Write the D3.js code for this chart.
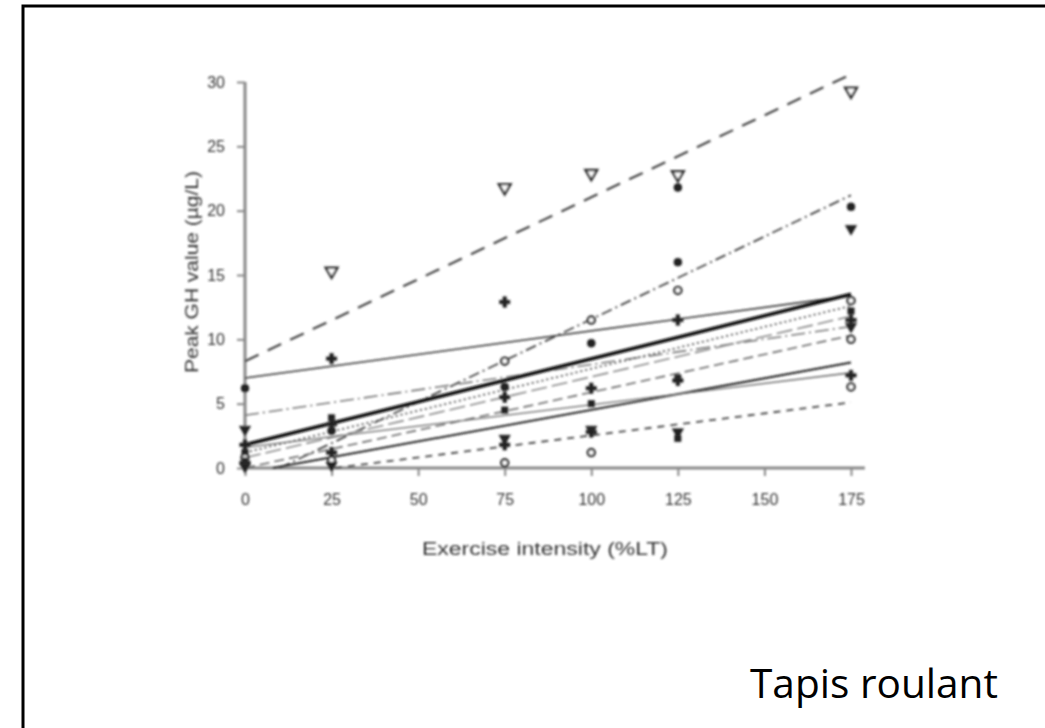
<!DOCTYPE html>
<html>
<head>
<meta charset="utf-8">
<script src="https://cdn.jsdelivr.net/npm/d3@7"></script>
<style>
  body { margin: 0; background: #fff; }
  svg { display: block; }
</style>
</head>
<body>
<div id="chart"></div>
<script>
// exercise intensity (%LT) where samples were taken
const xTicks = [0, 25, 50, 75, 100, 125, 150, 175];
const yTicks = [0, 5, 10, 15, 20, 25, 30];

// regression line of each subject: [x start, y start, x end, y end]
const fitLines = [
  { seg: [0, 8.3, 175, 30.6], dash: "15,10", w: 2.2, c: "#444" },
  { seg: [10, 0, 175, 21.2], dash: "11,4,2,4", w: 1.8, c: "#444" },
  { seg: [0, 7.0, 175, 13.4], dash: null, w: 1.6, c: "#333" },
  { seg: [0, 4.1, 175, 11.0], dash: "14,4,2,4", w: 1.6, c: "#777" },
  { seg: [0, 1.2, 175, 12.6], dash: "2,3", w: 1.8, c: "#555" },
  { seg: [0, 0.8, 175, 11.8], dash: "16,5", w: 1.6, c: "#888" },
  { seg: [0, 0, 175, 10.3], dash: "10,5", w: 1.6, c: "#666" },
  { seg: [0, 1.8, 175, 13.5], dash: null, w: 3.6, c: "#111" },
  { seg: [8, 0, 175, 8.2], dash: null, w: 2, c: "#222" },
  { seg: [0, 1.6, 175, 7.4], dash: null, w: 1.4, c: "#666" },
  { seg: [26, 0, 175, 5.1], dash: "7,6", w: 1.8, c: "#444" }
];

// measured peaks: intensity, GH value, marker
const peaks0 = [[0, 6.2, "dot"], [0, 3.0, "tri"], [0, 1.8, "plus"], [0, 1.2, "sq"], [0, 0.8, "ring"], [0, 0.4, "plus"], [0, 0.1, "tri"]];
const peaks25 = [[25, 15.3, "otri"], [25, 8.5, "plus"], [25, 3.9, "sq"], [25, 3.4, "plus"], [25, 2.9, "dot"], [25, 1.2, "plus"], [25, 0.6, "ring"], [25, 0.2, "tri"]];
const peaks75 = [[75, 21.8, "otri"], [75, 12.9, "plus"], [75, 8.3, "ring"], [75, 6.3, "dot"], [75, 5.5, "plus"], [75, 4.5, "sq"], [75, 2.3, "tri"], [75, 1.8, "plus"], [75, 0.4, "ring"]];
const peaks100 = [[100, 22.9, "otri"], [100, 11.5, "ring"], [100, 9.7, "dot"], [100, 6.2, "plus"], [100, 5.0, "sq"], [100, 3.0, "tri"], [100, 2.8, "plus"], [100, 1.2, "ring"]];
const peaks125 = [[125, 22.8, "otri"], [125, 21.8, "dot"], [125, 16.0, "dot"], [125, 13.8, "ring"], [125, 11.5, "plus"], [125, 7.0, "sq"], [125, 6.8, "plus"], [125, 2.8, "tri"], [125, 2.3, "sq"]];
const peaks175 = [[175, 29.3, "otri"], [175, 20.3, "dot"], [175, 18.6, "tri"], [175, 13.0, "ring"], [175, 12.2, "sq"], [175, 11.5, "plus"], [175, 11.0, "tri"], [175, 10.0, "ring"], [175, 7.2, "plus"], [175, 6.3, "ring"]];

const peaks = [].concat(peaks0, peaks25, peaks75, peaks100, peaks125, peaks175);

const svg = d3.select("#chart")
  .append("svg")
  .attr("width", 1045)
  .attr("height", 728);

// slide frame
svg.append("path")
  .attr("d", "M23,728V6H1045")
  .style("fill", "none")
  .style("stroke", "#000")
  .style("stroke-width", 3);

svg.append("defs").append("filter")
  .attr("id", "soft")
  .append("feGaussianBlur")
  .attr("stdDeviation", 0.8);

let x = d3.scaleLinear().domain([0, 175]).range([245, 851]);
let y = d3.scaleLinear().domain([0, 30]).range([468, 82]);

let plot = svg.append("g").attr("filter", "url(#soft)");

// axes
let xAxis = d3.axisBottom(x).tickValues(xTicks).tickSize(8).tickPadding(18);
plot.append("g")
  .attr("class", "x axis")
  .attr("transform", "translate(0,468)")
  .call(xAxis);

let yAxis = d3.axisLeft(y).tickValues(yTicks).tickSize(8).tickPadding(12);
plot.append("g")
  .attr("class", "y axis")
  .attr("transform", "translate(245,0)")
  .call(yAxis);

plot.selectAll(".axis .domain").remove();
plot.selectAll(".axis line")
  .style("stroke", "#888")
  .style("stroke-width", 2);
plot.selectAll(".axis text")
  .style("font-family", "Liberation Sans, Arial, sans-serif")
  .style("font-size", "16px")
  .style("fill", "#333");

plot.append("line")
  .attr("x1", x(0) - 2).attr("x2", x(179))
  .attr("y1", y(0)).attr("y2", y(0))
  .style("stroke", "#888").style("stroke-width", 3);

plot.append("line")
  .attr("x1", x(0)).attr("x2", x(0))
  .attr("y1", y(0)).attr("y2", y(30))
  .style("stroke", "#888").style("stroke-width", 3);

// fitted lines
plot.selectAll("line.fit")
  .data(fitLines)
  .enter().append("line")
  .attr("class", "fit")
  .attr("x1", d => x(d.seg[0]))
  .attr("y1", d => y(d.seg[1]))
  .attr("x2", d => x(d.seg[2]))
  .attr("y2", d => y(d.seg[3]))
  .style("stroke", d => d.c)
  .style("stroke-width", d => d.w)
  .style("stroke-dasharray", d => d.dash);

// markers
const shape = {
  dot: d3.symbol().type(d3.symbolCircle).size(50),
  ring: d3.symbol().type(d3.symbolCircle).size(40),
  tri: d3.symbol().type(d3.symbolTriangle).size(55),
  otri: d3.symbol().type(d3.symbolTriangle).size(60),
  sq: d3.symbol().type(d3.symbolSquare).size(40),
  plus: d3.symbol().type(d3.symbolCross).size(60)
};

plot.selectAll("path.peak")
  .data(peaks)
  .enter().append("path")
  .attr("class", "peak")
  .attr("d", d => shape[d[2]]())
  .attr("transform", d => {
    let r = (d[2] === "tri" || d[2] === "otri") ? " rotate(180)" : "";
    return "translate(" + x(d[0]) + "," + y(d[1]) + ")" + r;
  })
  .style("fill", d => (d[2] === "ring" || d[2] === "otri") ? "#fff" : "#222")
  .style("stroke", "#333")
  .style("stroke-width", d => (d[2] === "ring" || d[2] === "otri") ? 2.4 : 0.8);

// axis titles
plot.append("text")
  .attr("x", 545)
  .attr("y", 555)
  .attr("text-anchor", "middle")
  .attr("textLength", 246)
  .attr("lengthAdjust", "spacingAndGlyphs")
  .style("font-family", "Liberation Sans, Arial, sans-serif")
  .style("font-size", "18px")
  .style("fill", "#333")
  .text("Exercise intensity (%LT)");

plot.append("text")
  .attr("transform", "translate(198,272) rotate(-90)")
  .attr("text-anchor", "middle")
  .attr("textLength", 202)
  .attr("lengthAdjust", "spacingAndGlyphs")
  .style("font-family", "Liberation Sans, Arial, sans-serif")
  .style("font-size", "18px")
  .style("fill", "#333")
  .text("Peak GH value (µg/L)");

svg.append("text")
  .attr("x", 750)
  .attr("y", 698)
  .attr("textLength", 248)
  .attr("lengthAdjust", "spacingAndGlyphs")
  .style("font-family", "Open Sans, sans-serif")
  .style("font-size", "40px")
  .style("fill", "#000")
  .text("Tapis roulant");
</script>
</body>
</html>
